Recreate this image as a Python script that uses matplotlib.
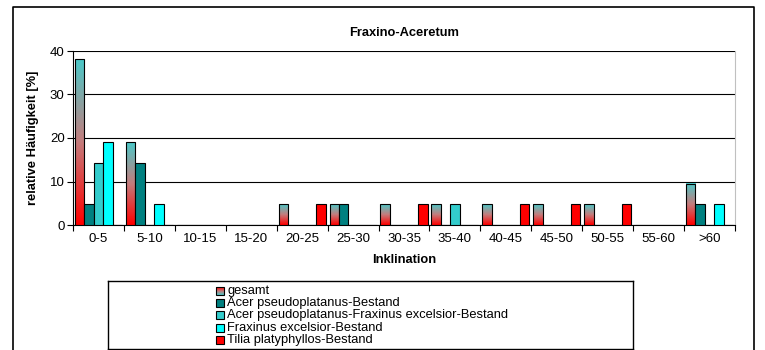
import numpy as np
import matplotlib
matplotlib.use("Agg")
import matplotlib.pyplot as plt
from matplotlib.colors import LinearSegmentedColormap
from matplotlib.patches import Rectangle

plt.rcParams['font.family'] = ['Liberation Sans', 'DejaVu Sans']

# Daten
kategorien = ['0-5', '5-10', '10-15', '15-20', '20-25', '25-30', '30-35',
              '35-40', '40-45', '45-50', '50-55', '55-60', '>60']
gesamt = [38.1, 19.0, 0, 0, 4.8, 4.8, 4.8, 4.8, 4.8, 4.8, 4.8, 0, 9.5]
acer = [4.8, 14.3, 0, 0, 0, 4.8, 0, 0, 0, 0, 0, 0, 4.8]
acer_frax = [14.3, 0, 0, 0, 0, 0, 0, 4.8, 0, 0, 0, 0, 0]
fraxinus = [19.0, 4.8, 0, 0, 0, 0, 0, 0, 0, 0, 0, 0, 4.8]
tilia = [0, 0, 0, 0, 4.8, 0, 4.8, 0, 4.8, 4.8, 4.8, 0, 0]

namen = ['gesamt', 'Acer pseudoplatanus-Bestand',
         'Acer pseudoplatanus-Fraxinus excelsior-Bestand',
         'Fraxinus excelsior-Bestand', 'Tilia platyphyllos-Bestand']
serien = [gesamt, acer, acer_frax, fraxinus, tilia]
farben = [None, '#008080', '#33CCCC', '#00FFFF', '#FF0000']

verlauf = LinearSegmentedColormap.from_list('verlauf', ['#ff0000', '#c47c7c', '#4cc8c8'])
grad = np.linspace(0, 1, 100).reshape(-1, 1)

W, H = 765, 350
fig = plt.figure(figsize=(W / 100, H / 100), dpi=100)

def px(x0, y0, x1, y1):
    # Pixel-Rechteck -> Figurkoordinaten
    return [x0 / W, 1 - y1 / H, (x1 - x0) / W, (y1 - y0) / H]

# Rahmen um das Diagramm
rahmen = fig.add_axes([0, 0, 1, 1])
rahmen.set_xlim(0, W)
rahmen.set_ylim(H, 0)
rahmen.axis('off')
rahmen.plot([13, 13, 754, 754], [352, 7, 7, 352], color='black', lw=1.2)

ax = fig.add_axes(px(73, 51, 735, 225))
x = np.arange(len(kategorien))
bw = 0.185
for i, (werte, farbe) in enumerate(zip(serien, farben)):
    pos = x - 2 * bw + i * bw
    if farbe is None:
        for p, v in zip(pos, werte):
            if v > 0:
                ax.imshow(grad, extent=[p - bw / 2, p + bw / 2, 0, v], origin='lower',
                          cmap=verlauf, aspect='auto', zorder=3)
        ax.bar(pos, werte, bw, facecolor='none', edgecolor='black', lw=0.8, zorder=4)
    else:
        ax.bar(pos, werte, bw, color=farbe, edgecolor='black', lw=0.8, zorder=4)

ax.set_xlim(-0.5, len(kategorien) - 0.5)
ax.set_ylim(0, 40)
ax.set_yticks([0, 10, 20, 30, 40])
ax.yaxis.grid(True, color='black', lw=0.8)
ax.set_axisbelow(True)
ax.set_xticks(np.arange(len(kategorien) + 1) - 0.5)
ax.set_xticklabels([])
ax.set_xticks(x, minor=True)
ax.set_xticklabels(kategorien, minor=True)
ax.tick_params(axis='x', which='major', length=4, width=0.8)
ax.tick_params(axis='x', which='minor', length=0, pad=6, labelsize=9.5)
ax.tick_params(axis='y', length=4, width=0.8, labelsize=9.5, pad=2)
ax.spines['top'].set_visible(False)
ax.spines['right'].set_color('#c0c0c0')
ax.spines['left'].set_linewidth(0.8)
ax.spines['bottom'].set_linewidth(0.8)

ax.set_title('Fraxino-Aceretum', fontsize=9.3, fontweight='bold', pad=11)
ax.set_xlabel('Inklination', fontsize=9.3, fontweight='bold', labelpad=6)
ax.set_ylabel('relative Häufigkeit [%]', fontsize=9.3, fontweight='bold', labelpad=8)

# Legende
lg = fig.add_axes(px(108, 281, 633, 349))
lg.set_xticks([])
lg.set_yticks([])
for s in lg.spines.values():
    s.set_linewidth(1.0)
for i, (name, farbe) in enumerate(zip(namen, farben)):
    yc = 291 + i * 12.2
    if farbe is None:
        lg.imshow(grad, extent=[216, 224, yc + 4, yc - 4], origin='upper',
                  cmap=verlauf, aspect='auto', zorder=3)
        lg.add_patch(Rectangle((216, yc - 4), 8, 8, facecolor='none',
                               edgecolor='black', lw=0.8, zorder=4))
    else:
        lg.add_patch(Rectangle((216, yc - 4), 8, 8, facecolor=farbe,
                               edgecolor='black', lw=0.8, zorder=4))
    lg.text(227, yc, name, fontsize=9.3, va='center', ha='left')
lg.set_xlim(108, 633)
lg.set_ylim(349, 281)

fig.savefig('out.png', dpi=100)
